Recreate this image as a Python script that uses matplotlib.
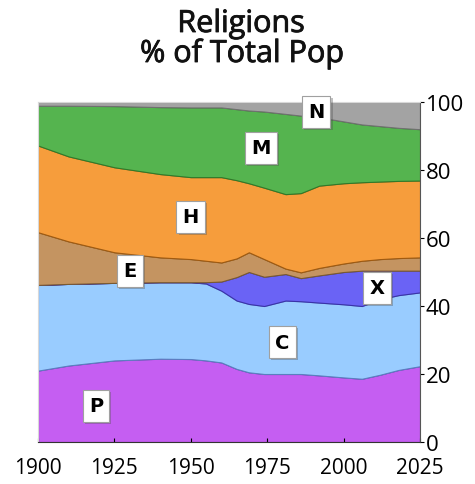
import numpy as np
import matplotlib
matplotlib.use('Agg')
import matplotlib.pyplot as plt
import matplotlib.patheffects as pe

plt.rcParams['font.family'] = ['Open Sans', 'DejaVu Sans']

# Years sampled along the chart
years = [1900, 1910, 1925, 1940, 1950, 1955, 1960, 1965, 1969, 1974,
         1981, 1986, 1992, 2000, 2006, 2012, 2018, 2025]

# Share of total population (%) per religion, stacked bottom to top
share_p = [21.0, 22.5, 24.0, 24.5, 24.4, 24.0, 23.4, 21.5, 20.5, 20.0,
           20.0, 20.0, 19.6, 19.0, 18.6, 19.8, 21.2, 22.3]
share_c = [25.2, 24.0, 22.8, 22.5, 22.6, 22.6, 21.1, 20.1, 20.1, 20.0,
           21.6, 21.4, 21.4, 21.5, 21.4, 22.2, 22.0, 21.7]
share_x = [0.0, 0.0, 0.0, 0.0, 0.0, 0.4, 2.7, 6.9, 9.4, 8.6,
           7.8, 6.8, 8.0, 9.5, 10.4, 8.4, 7.2, 6.4]
share_e = [15.5, 12.5, 9.0, 7.3, 6.8, 6.3, 5.6, 5.5, 5.8, 5.2,
           1.6, 1.7, 2.2, 2.5, 2.9, 3.4, 3.7, 3.9]
share_h = [25.5, 25.0, 25.0, 24.5, 24.1, 24.6, 25.1, 23.0, 20.3, 21.0,
           21.9, 23.3, 24.2, 23.6, 23.1, 22.8, 22.7, 22.6]
share_m = [11.7, 14.9, 18.0, 19.7, 20.5, 20.5, 20.5, 20.9, 21.4, 22.4,
           23.6, 22.8, 20.1, 18.2, 17.0, 16.3, 15.6, 15.1]
share_n = [1.1, 1.1, 1.2, 1.5, 1.6, 1.6, 1.6, 2.1, 2.5, 2.8,
           3.5, 4.0, 4.5, 5.7, 6.6, 7.1, 7.6, 8.0]

labels = ['P', 'C', 'X', 'E', 'H', 'M', 'N']
# label positions (year, %)
label_x = [1919, 1980, 2011, 1930, 1950, 1973, 1991]
label_y = [10.6, 29.4, 45.3, 50.3, 66.2, 86.5, 97.1]

fill_colors = ['#c55ef2', '#99ccff', '#6a63f5', '#c49461', '#f69d3c', '#55b44f', '#a3a3a3']
edge_colors = ['#7a2aa8', '#5a7fc0', '#3a32a8', '#7a5a30', '#a05a10', '#2f7a2a', '#707070']

x_ticks = [1900, 1925, 1950, 1975, 2000, 2025]
y_ticks = [0, 20, 40, 60, 80, 100]

fig = plt.figure(figsize=(4.75, 4.85), dpi=100)
ax = fig.add_axes([38 / 475, 42 / 485, 382 / 475, 340 / 485])

series = [share_p, share_c, share_x, share_e, share_h, share_m, share_n]
polys = ax.stackplot(years, *series, colors=fill_colors)
for poly, ec in zip(polys, edge_colors):
    poly.set_edgecolor(ec)
    poly.set_linewidth(0.8)

for lab, lx, ly in zip(labels, label_x, label_y):
    t = ax.text(lx, ly, lab, ha='center', va='center', fontsize=14,
                fontweight='bold', color='black', family='DejaVu Sans',
                bbox=dict(boxstyle='square,pad=0.32', facecolor='white',
                          edgecolor='#a0a0a0', linewidth=0.8))
    t.get_bbox_patch().set_path_effects(
        [pe.SimplePatchShadow(offset=(1.5, -1.5), alpha=0.35), pe.Normal()])

ax.set_xlim(1900, 2025)
ax.set_ylim(0, 100)
ax.set_xticks(x_ticks)
ax.set_yticks(y_ticks)
ax.yaxis.tick_right()
ax.tick_params(axis='y', direction='out', length=3, labelsize=16, pad=1)
ax.tick_params(axis='x', direction='in', length=3, labelsize=15, pad=11)

ax.spines['top'].set_color('#d8d8d8')
ax.spines['left'].set_color('#d8d8d8')
ax.spines['bottom'].set_color('#333333')
ax.spines['right'].set_color('#555555')

# two-line title, placed by baseline
title_fx = [pe.withStroke(linewidth=0.6, foreground='#111111')]
fig.text(241 / 475, 1 - 33 / 485, 'Religions', ha='center', va='baseline',
         fontsize=22, color='#111111', path_effects=title_fx)
fig.text(242 / 475, 1 - 63 / 485, '% of Total Pop', ha='center', va='baseline',
         fontsize=22, color='#111111', path_effects=title_fx)

fig.savefig('out.png', dpi=100)
